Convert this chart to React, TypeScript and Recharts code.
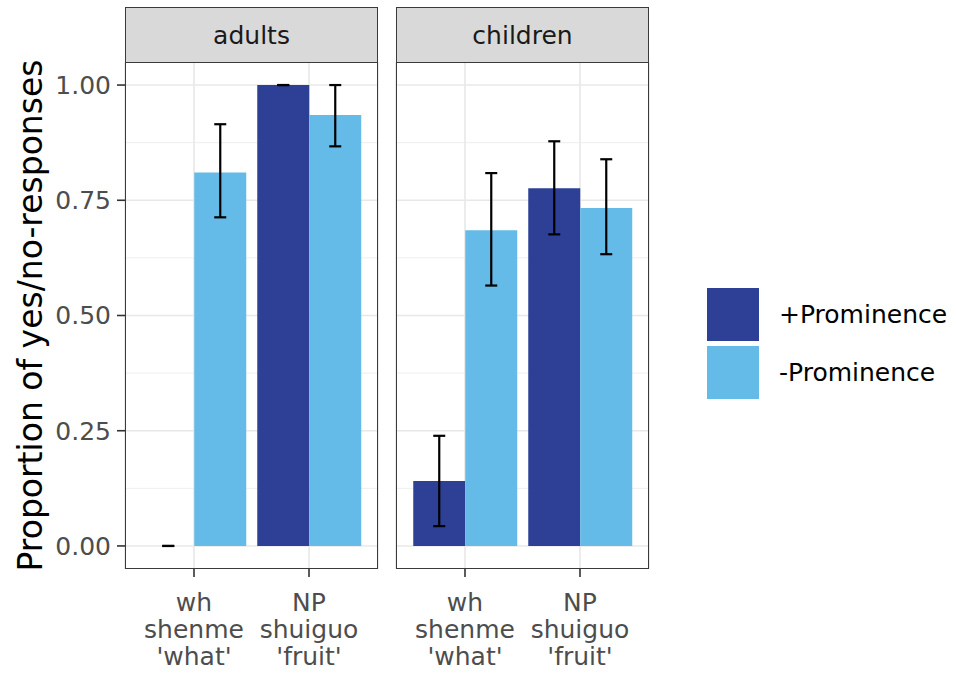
import { BarChart, Bar, XAxis, YAxis, CartesianGrid, ErrorBar, Label } from "recharts";

const facets = ["adults", "children"];
const categories = ["wh", "NP"];
const categoryLines = [
  ["wh", "shenme", "'what'"],
  ["NP", "shuiguo", "'fruit'"],
];
const seriesNames = ["+Prominence", "-Prominence"];

// proportions + 95% CI
const adultsPlus = [0, 1.0];
const adultsPlusLow = [0, 1.0];
const adultsPlusHigh = [0, 1.0];
const adultsMinus = [0.81, 0.935];
const adultsMinusLow = [0.713, 0.867];
const adultsMinusHigh = [0.915, 1.0];

const childrenPlus = [0.141, 0.776];
const childrenPlusLow = [0.043, 0.676];
const childrenPlusHigh = [0.239, 0.878];
const childrenMinus = [0.685, 0.733];
const childrenMinusLow = [0.565, 0.633];
const childrenMinusHigh = [0.809, 0.839];

const yTicks = [0, 0.25, 0.5, 0.75, 1];
const yMinor = [0.125, 0.375, 0.625, 0.875];

const DARK = "#2e3f96";
const LIGHT = "#65bbe7";
const FONT = "'DejaVu Sans', sans-serif";

function buildRows(
  plus: number[], plusLow: number[], plusHigh: number[],
  minus: number[], minusLow: number[], minusHigh: number[]
) {
  return categories.map((c, i) => ({
    category: c,
    plus: plus[i],
    plusErr: [plus[i] - plusLow[i], plusHigh[i] - plus[i]],
    minus: minus[i],
    minusErr: [minus[i] - minusLow[i], minusHigh[i] - minus[i]],
  }));
}

const panels = [
  buildRows(adultsPlus, adultsPlusLow, adultsPlusHigh, adultsMinus, adultsMinusLow, adultsMinusHigh),
  buildRows(childrenPlus, childrenPlusLow, childrenPlusHigh, childrenMinus, childrenMinusLow, childrenMinusHigh),
];

const PLOT_TOP = 62;
const PLOT_H = 507;
const PLOT_W = 253;
const plotLefts = [125, 396];

function CategoryTick(props: any) {
  const { x, y, payload } = props;
  const lines = categoryLines[categories.indexOf(payload.value)] || [payload.value];
  return (
    <text x={x} y={y} textAnchor="middle" fill="#4d4d4d" fontSize={25} fontFamily={FONT}>
      {lines.map((l, i) => (
        <tspan key={i} x={x} dy={i === 0 ? 34 : 27}>
          {l}
        </tspan>
      ))}
    </text>
  );
}

function Panel({ index }: { index: number }) {
  const showY = index === 0;
  const yW = showY ? 125 : 0;
  const marginL = showY ? 0 : 12;
  const width = yW + marginL + PLOT_W + 12;
  const chartLeft = plotLefts[index] - yW - marginL;
  const top = PLOT_TOP - 10;
  const height = 674 - top;
  return (
    <div style={{ position: "absolute", left: chartLeft, top }}>
      <BarChart
        width={width}
        height={height}
        data={panels[index]}
        margin={{ top: 10, right: 12, left: marginL, bottom: 0 }}
        barCategoryGap="5%"
        barGap={0}
      >
        <CartesianGrid
          horizontalValues={yMinor}
          vertical={false}
          stroke="#ececec"
          strokeWidth={0.9}
        />
        <CartesianGrid horizontalValues={yTicks} stroke="#e8e8e8" strokeWidth={1.6} />
        <XAxis
          dataKey="category"
          type="category"
          padding={{ left: 11.5, right: 11.5 }}
          axisLine={false}
          tickLine={{ stroke: "#333", strokeWidth: 1.6 }}
          tickSize={8}
          tickMargin={0}
          interval={0}
          height={height - 10 - PLOT_H}
          tick={<CategoryTick />}
        />
        <YAxis
          hide={!showY}
          width={yW}
          domain={[-0.05, 1.05]}
          allowDataOverflow
          ticks={yTicks}
          tickFormatter={(v: number) => v.toFixed(2)}
          axisLine={false}
          tickLine={{ stroke: "#333", strokeWidth: 1.6 }}
          tickSize={8}
          tickMargin={6}
          tick={{ fill: "#4d4d4d", fontSize: 25, fontFamily: FONT }}
        >
          {showY && (
            <Label
              value="Proportion of yes/no-responses"
              angle={-90}
              position="insideLeft"
              offset={30}
              style={{ textAnchor: "middle", fontSize: 33, fontFamily: FONT, fill: "#000" }}
            />
          )}
        </YAxis>
        {/* tiny minPointSize keeps the zero bar (and its CI cap) in the layout */}
        <Bar dataKey="plus" fill={DARK} minPointSize={0.01} isAnimationActive={false}>
          <ErrorBar dataKey="plusErr" width={6} stroke="#000" strokeWidth={2.2} isAnimationActive={false} />
        </Bar>
        <Bar dataKey="minus" fill={LIGHT} isAnimationActive={false}>
          <ErrorBar dataKey="minusErr" width={6} stroke="#000" strokeWidth={2.2} isAnimationActive={false} />
        </Bar>
      </BarChart>
      <div
        style={{
          position: "absolute",
          left: plotLefts[index] - chartLeft,
          top: 10,
          width: PLOT_W,
          height: PLOT_H,
          border: "1.8px solid #3a3a3a",
          boxSizing: "border-box",
          pointerEvents: "none",
        }}
      />
    </div>
  );
}

function Strip({ index }: { index: number }) {
  return (
    <div
      style={{
        position: "absolute",
        left: plotLefts[index],
        top: 7,
        width: PLOT_W,
        height: PLOT_TOP - 7 + 1,
        background: "#d9d9d9",
        border: "1.8px solid #3a3a3a",
        boxSizing: "border-box",
        display: "flex",
        alignItems: "center",
        justifyContent: "center",
        fontSize: 25,
        color: "#1a1a1a",
        fontFamily: FONT,
      }}
    >
      {facets[index]}
    </div>
  );
}

export default function App() {
  const colors = [DARK, LIGHT];
  return (
    <div
      style={{
        position: "absolute",
        left: 0,
        top: 0,
        width: 956,
        height: 674,
        background: "#fff",
        fontFamily: FONT,
        overflow: "hidden",
      }}
    >
      <Panel index={0} />
      <Panel index={1} />
      <Strip index={0} />
      <Strip index={1} />
      {seriesNames.map((name, i) => (
        <div
          key={name}
          style={{ position: "absolute", left: 707, top: 288 + i * 58, height: 53, display: "flex", alignItems: "center" }}
        >
          <div style={{ width: 52, height: 53, background: colors[i] }} />
          <span style={{ marginLeft: 20, fontSize: 25, color: "#000" }}>{name}</span>
        </div>
      ))}
    </div>
  );
}
